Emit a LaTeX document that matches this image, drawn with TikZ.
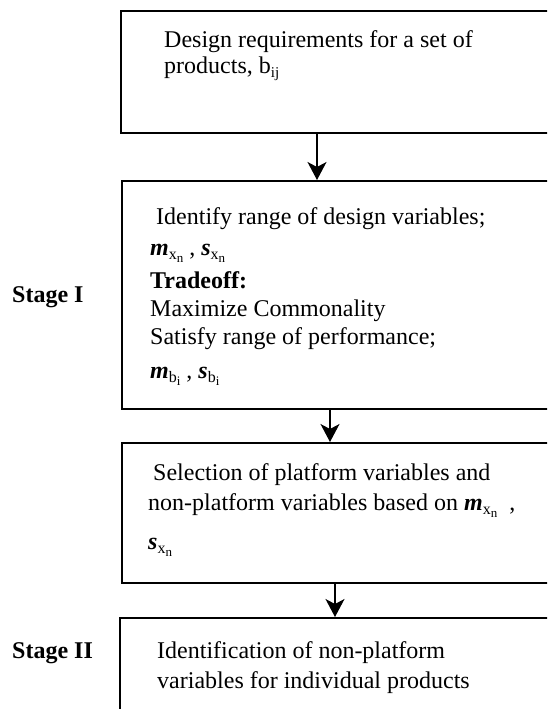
\documentclass[tikz,border=0pt]{standalone}
\usepackage{fontspec}
\setmainfont{Liberation Serif}
\usetikzlibrary{arrows.meta}
\newcommand{\bim}[1]{\textbf{\textit{#1}}}
\newcommand{\sbx}[2]{\raisebox{-4pt}{\fontsize{16}{16}\selectfont #1\raisebox{-3pt}{\fontsize{13}{13}\selectfont #2}}}
\newcommand{\sbij}{\raisebox{-4pt}{\fontsize{15}{15}\selectfont ij}}
\begin{document}
\begin{tikzpicture}[x=1pt,y=-1pt,
  box/.style={draw, line width=2pt, anchor=north west, inner sep=0pt},
  arr/.style={-{Stealth[length=18pt,width=19pt,inset=5pt]}, line width=1.5pt},
  txt/.style={anchor=base west, inner sep=0pt, font=\fontsize{24}{28}\selectfont},
  stage/.style={anchor=base west, inner sep=0pt, font=\fontsize{24}{28}\selectfont\bfseries}]
\useasboundingbox (0,0) rectangle (547,709);
\clip (0,0) rectangle (547,709);
\fill[white] (0,0) rectangle (547,709);
\node[box, minimum width=460pt, minimum height=122pt] (b1) at (120,10) {};
\node[box, minimum width=460pt, minimum height=228pt] (b2) at (121,180) {};
\node[box, minimum width=460pt, minimum height=140pt] (b3) at (121,442) {};
\node[box, minimum width=460pt, minimum height=150pt] (b4) at (119,617) {};
\coordinate (a1) at (317,0);
\coordinate (a2) at (330,0);
\coordinate (a3) at (335,0);
\draw[arr] (b1.south -| a1) -- (b2.north -| a1);
\draw[arr] (b2.south -| a2) -- (b3.north -| a2);
\draw[arr] (b3.south -| a3) -- (b4.north -| a3);
\node[txt] (t1a) at (164,48) {Design requirements for a set of};
\node[txt] (t1b) at (164,74) {products, b\sbij};
\node[txt] (t2a) at (156,224) {Identify range of design variables;};
\node[txt] (t2b) at (150,255) {\bim{m}\sbx{x}{n}\ , \bim{s}\sbx{x}{n}};
\node[txt] (t2c) at (150,288) {\textbf{Tradeoff:}};
\node[txt] (t2d) at (150,316) {Maximize Commonality};
\node[txt] (t2e) at (150,344) {Satisfy range of performance;};
\node[txt] (t2f) at (150,378) {\bim{m}\sbx{b}{i}\ , \bim{s}\sbx{b}{i}};
\node[stage] (s1) at (12,302) {Stage I};
\node[txt] (t3a) at (153,480) {Selection of platform variables and};
\node[txt] (t3b) at (148,510) {non-platform variables based on \bim{m}\sbx{x}{n}\ \ ,};
\node[txt] (t3c) at (148,549) {\bim{s}\sbx{x}{n}};
\node[txt] (t4a) at (157,658) {Identification of non-platform};
\node[txt] (t4b) at (157,688) {variables for individual products};
\node[stage] (s2) at (12,658) {Stage II};
\end{tikzpicture}
\end{document}
